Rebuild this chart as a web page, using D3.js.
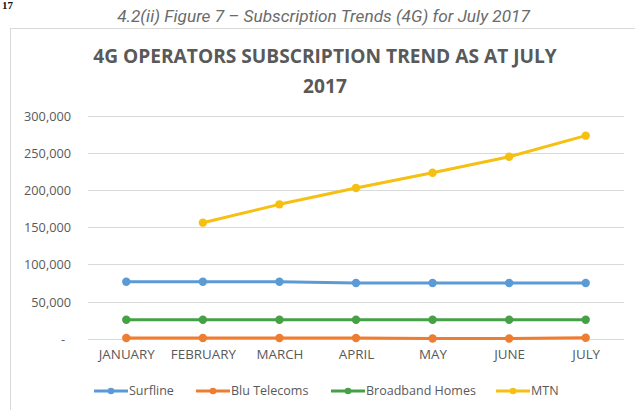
<!DOCTYPE html>
<html>
<head>
<meta charset="utf-8">
<script src="https://cdn.jsdelivr.net/npm/d3@7"></script>
<style>
  html, body { margin: 0; padding: 0; background: #fff; }
  svg { display: block; }
</style>
</head>
<body>
<svg id="chart" width="635" height="410"></svg>
<script>
const months = ["JANUARY", "FEBRUARY", "MARCH", "APRIL", "MAY", "JUNE", "JULY"];
const surfline = [76800, 76800, 76800, 75000, 75000, 75000, 75000];
const bluTelecoms = [1000, 1000, 1000, 1000, 200, 200, 1200];
const broadbandHomes = [25600, 25600, 25600, 25600, 25600, 25600, 25600];
const mtn = [null, 156300, 181000, 203000, 223600, 245200, 273500];
const seriesNames = ["Surfline", "Blu Telecoms", "Broadband Homes", "MTN"];
const seriesColors = ["#5B9BD5", "#ED7D31", "#46A046", "#F5C011"];
const yTicks = [0, 50000, 100000, 150000, 200000, 250000, 300000];
const caption = "4.2(ii) Figure 7 \u2013 Subscription Trends (4G) for July 2017";
const titleLines = ["4G OPERATORS SUBSCRIPTION TREND AS AT JULY", "2017"];

const seriesValues = [surfline, bluTelecoms, broadbandHomes, mtn];

const svg = d3.select("#chart");

function fitSize(sel, base, target) {
  const w = sel.node().getComputedTextLength();
  return base * target / w;
}

// page fragment at top-left
svg.append("text").attr("x", 2).attr("y", 9)
  .attr("font-family", "Liberation Serif, serif").attr("font-size", 11)
  .attr("font-weight", "bold").attr("fill", "#111").text("17");

// caption
const cap = svg.append("text").attr("x", 323.5).attr("y", 22).attr("text-anchor", "middle")
  .attr("font-family", "Roboto, sans-serif").attr("font-style", "italic")
  .attr("font-size", 14).attr("fill", "#6b6b6b").text(caption);
cap.attr("font-size", fitSize(cap, 14, 413));

// chart frame
svg.append("rect").attr("x", 10.5).attr("y", 28.5).attr("width", 640).attr("height", 400)
  .attr("fill", "#fff").attr("stroke", "#d9d9d9").attr("stroke-width", 1);

// title
const tg = svg.append("g");
const t1 = tg.append("text").attr("x", 325).attr("y", 63).attr("text-anchor", "middle")
  .attr("font-family", "Open Sans, sans-serif").attr("font-weight", "bold")
  .attr("font-size", 18).attr("fill", "#595959").text(titleLines[0]);
const fs = fitSize(t1, 18, 464);
t1.attr("font-size", fs);
tg.append("text").attr("x", 325).attr("y", 93).attr("text-anchor", "middle")
  .attr("font-family", "Open Sans, sans-serif").attr("font-weight", "bold")
  .attr("font-size", fs).attr("fill", "#595959").text(titleLines[1]);

const plotLeft = 88, plotRight = 624;
const x = d3.scalePoint().domain(months).range([plotLeft, plotRight]).padding(0.5);
const y = d3.scaleLinear().domain([0, 300000]).range([338.7, 116]);

// gridlines
svg.append("g").selectAll("line").data(yTicks).join("line")
  .attr("x1", plotLeft).attr("x2", plotRight)
  .attr("y1", d => Math.round(y(d)) + 0.5).attr("y2", d => Math.round(y(d)) + 0.5)
  .attr("stroke", "#d9d9d9").attr("stroke-width", 1);

// y axis labels
const fmt = d3.format(",");
const yAxis = d3.axisLeft(y).tickValues(yTicks).tickSize(0).tickPadding(0)
  .tickFormat(d => d === 0 ? "-" : fmt(d));
const yg = svg.append("g").attr("transform", "translate(71,0)").call(yAxis);
yg.select(".domain").remove();
yg.selectAll("text").attr("font-family", "Open Sans, sans-serif").attr("font-size", 12)
  .attr("fill", "#595959").attr("dy", "0.35em");
const yfs = fitSize(yg.selectAll("text").filter(d => d === 300000), 12, 47);
yg.selectAll("text").attr("font-size", yfs);
yg.selectAll("text").filter(d => d === 0).attr("text-anchor", "middle").attr("x", -8);

// x axis labels
const xAxis = d3.axisBottom(x).tickSize(0).tickPadding(0);
const xg = svg.append("g").attr("transform", "translate(0,350)").call(xAxis);
xg.select(".domain").remove();
xg.selectAll("text").attr("font-family", "Open Sans, sans-serif").attr("font-size", 12)
  .attr("fill", "#595959").attr("dy", "0.7em");
const xfs = fitSize(xg.selectAll("text").filter(d => d === "JANUARY"), 12, 56);
xg.selectAll("text").attr("font-size", xfs);

// lines
const line = d3.line().defined(d => d != null)
  .x((d, i) => x(months[i])).y(d => y(d));
const order = [2, 1, 0, 3];
order.forEach(si => {
  const vals = seriesValues[si];
  const g = svg.append("g");
  g.append("path").datum(vals).attr("d", line).attr("fill", "none")
    .attr("stroke", seriesColors[si]).attr("stroke-width", 3).attr("stroke-linejoin", "round");
  g.selectAll("circle").data(vals.map((v, i) => ({v, i})).filter(d => d.v != null)).join("circle")
    .attr("cx", d => x(months[d.i])).attr("cy", d => y(d.v)).attr("r", 4.2)
    .attr("fill", seriesColors[si]);
});

// legend
const legendX = [94, 196, 331, 496];
const lg = svg.append("g").attr("transform", "translate(0,391)");
const ltexts = [];
seriesNames.forEach((name, i) => {
  const gx = legendX[i];
  lg.append("line").attr("x1", gx).attr("x2", gx + 34).attr("y1", 0).attr("y2", 0)
    .attr("stroke", seriesColors[i]).attr("stroke-width", 3);
  lg.append("circle").attr("cx", gx + 17).attr("cy", 0).attr("r", 3.3).attr("fill", seriesColors[i]);
  ltexts.push(lg.append("text").attr("x", gx + 35).attr("y", 0).attr("dy", "0.35em")
    .attr("font-family", "Open Sans, sans-serif").attr("font-size", 12)
    .attr("fill", "#595959").text(name));
});
const lfs = fitSize(ltexts[2], 12, 110);
ltexts.forEach(t => t.attr("font-size", lfs));
</script>
</body>
</html>
